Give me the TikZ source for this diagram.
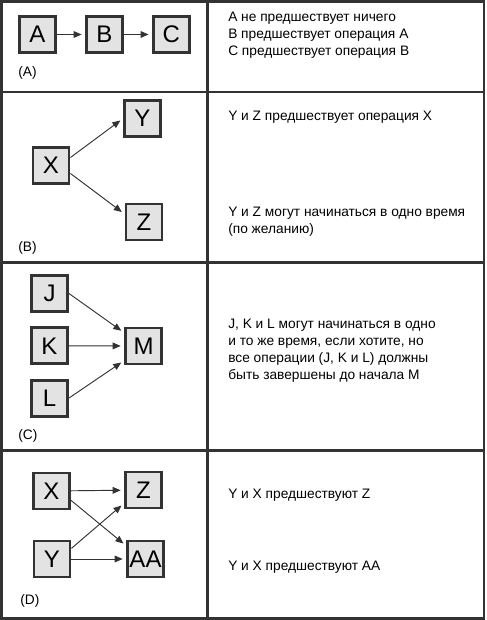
\documentclass[tikz,border=0pt]{standalone}
\usepackage{fontspec}
\setmainfont{Liberation Sans}
\usetikzlibrary{arrows.meta,positioning}
\definecolor{ink}{HTML}{333333}
\definecolor{boxfill}{HTML}{E3E3E3}

\begin{document}
\begin{tikzpicture}[x=0.75pt,y=-0.75pt,node distance=10pt and 21pt,
 act/.style={draw=ink,fill=boxfill,line width=2.2pt,minimum size=27pt,inner sep=0pt,
 font=\fontsize{18}{18}\selectfont},
 arr/.style={-{Triangle[length=6pt,width=5pt]},draw=ink,line width=0.7pt,shorten >=2.5pt},
 grid/.style={draw=ink,line width=2.2pt},
 note/.style={anchor=north west,inner sep=0pt,align=left,font=\fontsize{10.3}{12.6}\selectfont},
 tag/.style={anchor=west,inner sep=0pt,font=\fontsize{10.3}{12}\selectfont}]
\useasboundingbox (0,0) rectangle (486,620);
% table
\draw[grid] (1.5,1.5) rectangle (484,618.5);
\draw[grid] (207.5,1.5)--(207.5,618.5);
\draw[grid] (1.5,92)--(484,92);\draw[grid] (1.5,262.7)--(484,262.7);\draw[grid] (1.5,450.7)--(484,450.7);
% (A)
\node[act] (a) at (37.5,34.5) {A};
\node[act,right=of a] (b) {B};
\node[act,right=of b] (c) {C};
\draw[arr] (a)--(b);\draw[arr] (b)--(c);
\node[tag] (ta) at (18,73) {(A)};
\node[note] (na) at (228,12) {A не предшествует ничего\\B предшествует операция A\\C предшествует операция B};
% (B)
\node[act] (x) at (51,165.5) {X};
\node[act] (y) at (142.5,118.5) {Y};
\node[act] (z) at (144,222) {Z};
\draw[arr] ([yshift=6pt]x.east)--(y.west);\draw[arr] ([yshift=-6pt]x.east)--([yshift=6pt]z.west);
\node[tag] (tb) at (18,248) {(B)};
\node[note] (nb1) at (228,111) {Y и Z предшествует операция X};
\node[note] (nb2) at (228,207) {Y и Z могут начинаться в одно время\\(по желанию)};
% (C)
\node[act] (j) at (49.5,293.5) {J};
\node[act,below=of j] (k) {K};
\node[act,below=of k] (l) {L};
\node[act] (m) at (143.5,346) {M};
\draw[arr] (j.east)--([yshift=10pt]m.west);\draw[arr] (k)--(m);\draw[arr] (l.east)--([yshift=-11pt]m.west);
\node[tag] (tc) at (18,436) {(C)};
\node[note] (nc) at (228,319) {J, K и L могут начинаться в одно\\и то же время, если хотите, но\\все операции (J, K и L) должны\\быть завершены до начала M};
% (D)
\node[act] (xd) at (51.5,491) {X};
\node[act] (zd) at (143.5,490) {Z};
\node[act] (yd) at (52,559) {Y};
\node[act] (aa) at (145.5,559) {AA};
\draw[arr] (xd)--(zd);\draw[arr] ([yshift=-7pt]xd.east)--([yshift=10pt]aa.west);
\draw[arr] ([yshift=8pt]yd.east)--([yshift=-10pt]zd.west);\draw[arr] (yd)--(aa);
\node[tag] (td) at (20,601) {(D)};
\node[note] (nd1) at (228,489) {Y и X предшествуют Z};
\node[note] (nd2) at (228,561) {Y и X предшествуют AA};
\end{tikzpicture}
\end{document}
